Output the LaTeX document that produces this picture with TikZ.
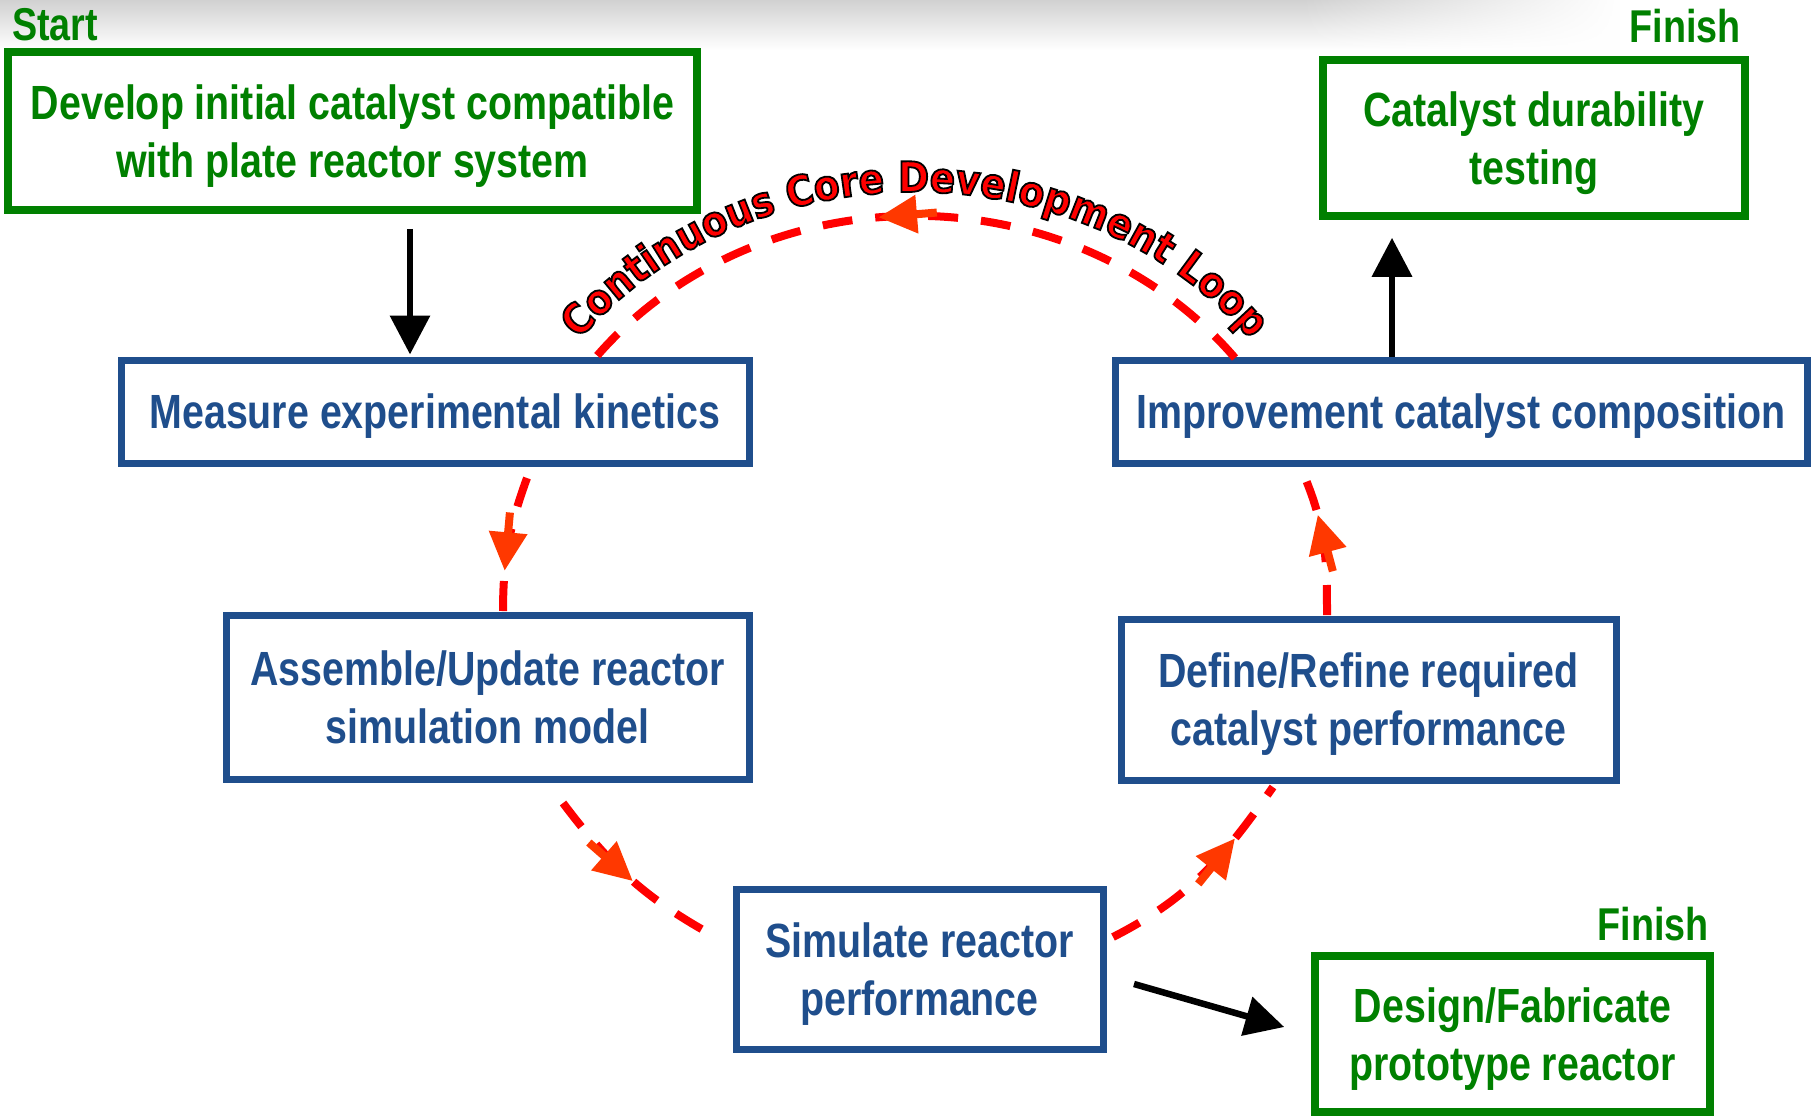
\documentclass[tikz,border=0pt]{standalone}
\usepackage{fontspec}
\usetikzlibrary{arrows.meta,decorations.text,decorations.markings,fadings}

% condensed bold face for the stage boxes, heavy face for the loop caption
\newfontfamily\boxface{Liberation Sans}[FakeStretch=0.82]
\newfontfamily\loopface{DejaVu Sans}[FakeStretch=0.89]

\definecolor{boxgreen}{RGB}{0,128,0}
\definecolor{boxblue}{RGB}{31,78,140}
\definecolor{loopdash}{RGB}{255,0,0}
\definecolor{looptip}{RGB}{255,56,0}

% red letters with a thin black outline (fill + stroke text rendering)
\newcommand\outlinedloop{\loopface\bfseries\fontsize{42}{42}\selectfont\color{loopdash}\special{pdf:literal direct 2 Tr 1.8 w 0 0 0 RG}}

\tikzfading[name=bandout, left color=transparent!0, right color=transparent!100]
\tikzfading[name=sidefade, top color=transparent!100, middle color=transparent!0, bottom color=transparent!100]

\tikzset{
  stagebox/.style={draw, line width=7pt, align=center, inner sep=0pt, text depth=-5pt,
    font=\boxface\bfseries\fontsize{48}{58}\selectfont},
  greenbox/.style={stagebox, draw=boxgreen, text=boxgreen, line width=7.5pt},
  bluebox/.style={stagebox, draw=boxblue, text=boxblue},
  tag/.style={text=boxgreen, inner sep=0pt, font=\boxface\bfseries\fontsize{46}{46}\selectfont},
  flow/.style={line width=6.5pt, -{Triangle[length=39pt, width=39pt]}},
  loopline/.style={draw=loopdash, line width=8pt, dash pattern=on 30pt off 23pt},
  loophead/.style={postaction={decorate}, decoration={markings,
    mark=at position #1 with {
      \fill[looptip] (0,0) -- (-38,19.5) -- (-38,-19.5) -- cycle;
      \draw[looptip, solid, line width=8pt] (-58,0) -- (-37,0);}}}
}

\begin{document}
\begin{tikzpicture}[x=1pt, y=1pt]
\useasboundingbox (0,0) rectangle (1819,-1116);

% backdrop: white page, grey band along the top, faint haze at the left edge
\fill[white] (0,0) rectangle (1819,-1116);
\shade[top color=black!18, bottom color=white] (0,0) rectangle (1300,-50);
\shade[top color=black!18, bottom color=white, path fading=bandout] (1300,0) rectangle (1620,-50);
\shade[left color=black!6, right color=white, path fading=sidefade] (0,-180) rectangle (380,-1116);

% stages
\node[greenbox, minimum width=689pt, minimum height=158pt] (develop) at (352.5,-131)
  {Develop initial catalyst compatible\\with plate reactor system};
\node[greenbox, minimum width=422pt, minimum height=156pt] (durability) at (1534,-138)
  {Catalyst durability\\testing};
\node[bluebox, minimum width=628pt, minimum height=103pt] (measure) at (435,-411.5)
  {Measure experimental kinetics};
\node[bluebox, minimum width=692pt, minimum height=103pt] (improve) at (1461,-411.5)
  {Improvement catalyst composition};
\node[bluebox, minimum width=523pt, minimum height=164pt] (assemble) at (487.5,-697)
  {Assemble/Update reactor\\simulation model};
\node[bluebox, minimum width=495pt, minimum height=161pt] (define) at (1368.5,-699.5)
  {Define/Refine required\\catalyst performance};
\node[bluebox, minimum width=367pt, minimum height=160pt] (simulate) at (919.5,-969)
  {Simulate reactor\\performance};
\node[greenbox, minimum width=395pt, minimum height=156pt] (design) at (1512.5,-1034)
  {Design/Fabricate\\prototype reactor};

% start / finish tags
\node[tag, anchor=base west] (starttag) at (12,-41) {Start};
\node[tag, anchor=base east] (finishtop) at (1741,-42) {Finish};
\node[tag, anchor=base east] (finishbottom) at (1709,-940) {Finish};

% entry and exit arrows
\coordinate (dropx) at (410,0);
\coordinate (risex) at (1392,0);
\draw[flow, shorten <=15pt, shorten >=2pt] (develop.south -| dropx) -- (measure.north -| dropx);
\draw[flow, shorten >=18pt] (improve.north -| risex) -- (durability.south -| risex);
\draw[flow] ([shift={(27.5,-15)}]simulate.east) -- ([shift={(-27,7)}]design.west);

% the development loop
\coordinate (topR)    at ([shift={(-226,-1.5)}]improve.north);
\coordinate (kinOut)  at ([shift={(92,-11.5)}]measure.south);
\coordinate (modIn)   at ([shift={(15.5,-1.5)}]assemble.north);
\coordinate (modOut)  at ([shift={(75.5,-20.5)}]assemble.south);
\coordinate (simIn)   at ([shift={(-20.5,34)}]simulate.west);
\coordinate (simOut)  at ([shift={(6.5,32)}]simulate.east);
\coordinate (perfIn)  at ([shift={(-95.5,-3.5)}]define.south);
\coordinate (perfOut) at ([shift={(-41.5,0.5)}]define.north);
\coordinate (compIn)  at ([shift={(-155,-13.5)}]improve.south);

\draw[loopline, loophead=0.55] (topR) arc[start angle=38, end angle=142, x radius=406, y radius=370];
\draw[loopline, loophead=0.69] (kinOut) to[out=-110, in=90] (modIn);
\draw[loopline, loophead=0.52] (modOut) to[out=-53, in=151] (simIn);
\draw[loopline, loophead=0.71] (simOut) to[out=27, in=235] (perfIn);
\draw[loopline, loophead=0.73] (perfOut) to[out=90, in=-68] (compIn);

% caption bent along the top of the loop
\path[decorate, decoration={text along path, text align=center,
    text={|\outlinedloop|Continuous Core Development Loop}}]
  (580.8,-338) arc[start angle=141, end angle=39, x radius=430, y radius=394];
\end{tikzpicture}
\end{document}
